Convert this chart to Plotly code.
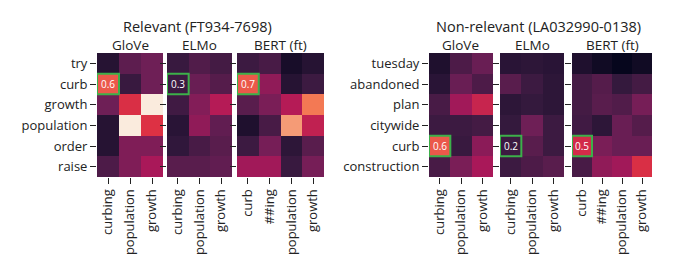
import plotly.graph_objects as go

# page has an 8px body margin; figure fills the rest of the 685x273 window
OFF = 8
W, H = 685 - OFF, 273 - OFF

# ---------------- data ----------------
rel_rows = ["try", "curb", "growth", "population", "order", "raise"]
nonrel_rows = ["tuesday", "abandoned", "plan", "citywide", "curb", "construction"]
glove_cols = ["curbing", "population", "growth"]
elmo_cols = ["curbing", "population", "growth"]
bert_cols = ["curb", "##ing", "population", "growth"]

# colour intensity (0..1 on the colour scale)
L_glove = [[0.10, 0.24, 0.28],
           [0.65, 0.15, 0.28],
           [0.28, 0.55, 1.00],
           [0.10, 1.00, 0.56],
           [0.10, 0.32, 0.32],
           [0.20, 0.32, 0.42]]
L_elmo = [[0.15, 0.21, 0.18],
          [0.16, 0.27, 0.22],
          [0.17, 0.33, 0.45],
          [0.11, 0.36, 0.25],
          [0.13, 0.19, 0.23],
          [0.23, 0.23, 0.25]]
L_bert = [[0.16, 0.19, 0.06, 0.10],
          [0.65, 0.36, 0.10, 0.16],
          [0.23, 0.31, 0.45, 0.72],
          [0.08, 0.19, 0.80, 0.48],
          [0.16, 0.30, 0.12, 0.23],
          [0.40, 0.40, 0.15, 0.30]]
R_glove = [[0.08, 0.20, 0.27],
           [0.11, 0.27, 0.20],
           [0.19, 0.40, 0.50],
           [0.16, 0.16, 0.18],
           [0.65, 0.15, 0.35],
           [0.19, 0.31, 0.42]]
R_elmo = [[0.11, 0.12, 0.11],
          [0.23, 0.16, 0.12],
          [0.12, 0.14, 0.12],
          [0.14, 0.28, 0.16],
          [0.16, 0.23, 0.16],
          [0.16, 0.20, 0.23]]
R_bert = [[0.08, 0.04, 0.01, 0.04],
          [0.18, 0.22, 0.14, 0.18],
          [0.18, 0.23, 0.21, 0.30],
          [0.17, 0.12, 0.27, 0.22],
          [0.53, 0.31, 0.27, 0.27],
          [0.19, 0.36, 0.40, 0.55]]

# highlighted cells: (row, col, label)
L_glove_hl = (1, 0, "0.6")
L_elmo_hl = (1, 0, "0.3")
L_bert_hl = (1, 0, "0.7")
R_glove_hl = (4, 0, "0.6")
R_elmo_hl = (4, 0, "0.2")
R_bert_hl = (4, 0, "0.5")

rocket = [[0.0, "#03051a"], [0.143, "#35193e"], [0.286, "#701f57"],
          [0.429, "#ad1759"], [0.571, "#e13342"], [0.714, "#f37651"],
          [0.857, "#f6b48f"], [1.0, "#faebdd"]]

FONT = "Open Sans"
TXT = "#222222"


def px(x):
    return (x - OFF) / W


def py(y):
    return 1 - (y - OFF) / H


panels = [
    # z, rows, cols, x0px, x1px, title, highlight, show y labels
    (L_glove, rel_rows, glove_cols, 97, 163, "GloVe", L_glove_hl, True),
    (L_elmo, rel_rows, elmo_cols, 167, 232, "ELMo", L_elmo_hl, False),
    (L_bert, rel_rows, bert_cols, 237, 324, "BERT (ft)", L_bert_hl, False),
    (R_glove, nonrel_rows, glove_cols, 429, 493, "GloVe", R_glove_hl, True),
    (R_elmo, nonrel_rows, elmo_cols, 500, 564, "ELMo", R_elmo_hl, False),
    (R_bert, nonrel_rows, bert_cols, 572, 652, "BERT (ft)", R_bert_hl, False),
]
Y0, Y1 = 53, 177

fig = go.Figure()
layout = dict(width=W, height=H, margin=dict(l=0, r=0, t=0, b=0, autoexpand=False),
              paper_bgcolor="white", plot_bgcolor="white",
              font=dict(family=FONT, size=13, color=TXT), showlegend=False)
shapes, annotations = [], []

for i, (z, rows, cols, x0, x1, title, hl, ylab) in enumerate(panels):
    n = i + 1
    xa = "x" if n == 1 else f"x{n}"
    ya = "y" if n == 1 else f"y{n}"
    fig.add_trace(go.Heatmap(z=z, x=list(range(len(cols))), y=list(range(len(rows))),
                             colorscale=rocket, zmin=0, zmax=1, showscale=False,
                             xaxis=xa, yaxis=ya, hoverinfo="skip"))
    key = "" if n == 1 else str(n)
    layout["xaxis" + key] = dict(domain=[px(x0), px(x1)], anchor=ya, automargin=False,
                                 tickmode="array", tickvals=list(range(len(cols))),
                                 ticktext=cols, tickangle=-90, ticks="outside",
                                 ticklen=6, tickcolor=TXT, showgrid=False,
                                 zeroline=False, showline=False,
                                 range=[-0.5, len(cols) - 0.5],
                                 tickfont=dict(size=13, color=TXT))
    layout["yaxis" + key] = dict(domain=[py(Y1), py(Y0)], anchor=xa, automargin=False,
                                 tickmode="array", tickvals=list(range(len(rows))),
                                 ticktext=rows if ylab else [""] * len(rows),
                                 ticks="outside", ticklen=6, tickcolor=TXT,
                                 showgrid=False, zeroline=False, showline=False,
                                 range=[len(rows) - 0.5, -0.5],
                                 tickfont=dict(size=13, color=TXT))
    r, c, lab = hl
    shapes.append(dict(type="rect", xref=xa, yref=ya,
                       x0=c - 0.5, x1=c + 0.5, y0=r - 0.5, y1=r + 0.5,
                       line=dict(color="#3cb04a", width=2)))
    annotations.append(dict(x=c, y=r, xref=xa, yref=ya, text=lab, showarrow=False,
                            xanchor="center", yanchor="middle",
                            font=dict(size=10, color="white", family=FONT)))
    annotations.append(dict(x=px((x0 + x1) / 2), y=py(45.5), xref="paper", yref="paper",
                            text=title, showarrow=False, xanchor="center", yanchor="middle",
                            borderpad=0,
                            font=dict(size=13.5, color=TXT, family=FONT)))

annotations.append(dict(x=px(198), y=py(26.5), xref="paper", yref="paper",
                        text="Relevant (FT934-7698)", showarrow=False,
                        xanchor="center", yanchor="middle", borderpad=0,
                        font=dict(size=14.5, color=TXT, family=FONT)))
annotations.append(dict(x=px(538), y=py(26.5), xref="paper", yref="paper",
                        text="Non-relevant (LA032990-0138)", showarrow=False,
                        xanchor="center", yanchor="middle", borderpad=0,
                        font=dict(size=14.5, color=TXT, family=FONT)))

layout["shapes"] = shapes
layout["annotations"] = annotations
fig.update_layout(**layout)
fig.write_html("out.html")
